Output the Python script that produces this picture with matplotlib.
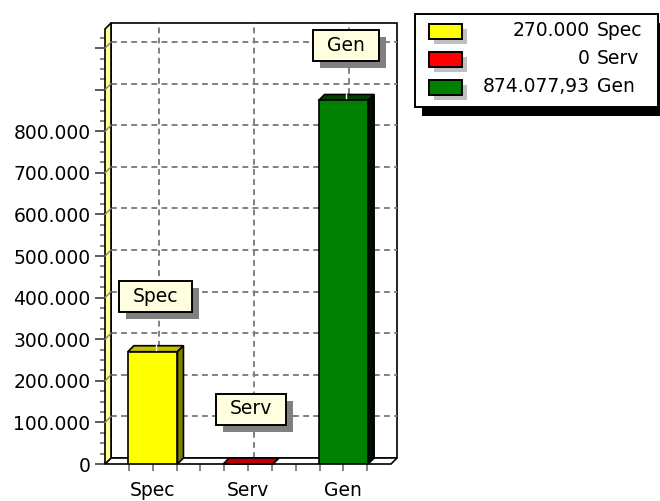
import matplotlib
matplotlib.use("Agg")
import matplotlib.pyplot as plt
from matplotlib.patches import Rectangle, Polygon
from matplotlib.transforms import IdentityTransform
from matplotlib.ticker import FixedLocator
import numpy as np

categories = ["Spec", "Serv", "Gen"]
values = [270000, 0, 874077.93]
front_colors = ["#ffff00", "#ff0000", "#008000"]
top_colors = ["#c0c000", "#c00000", "#004000"]
side_colors = ["#808000", "#800000", "#001000"]
y_ticks = [0, 100000, 200000, 300000, 400000, 500000, 600000, 700000, 800000, 900000, 1000000]
y_tick_labels = ["0", "100.000", "200.000", "300.000", "400.000", "500.000",
                 "600.000", "700.000", "800.000", "", ""]
x_minor_ticks = [-0.25, 0.25, 0.5, 0.75, 1.25, 1.5, 1.75, 2.25]

plt.rcParams['font.family'] = ['DejaVu Sans']
FS = 13.5
W, H = 660, 501
D = 6  # 3d depth in px


def fmt_num(v):
    whole = int(v)
    s = f"{whole:,}".replace(",", ".")
    if abs(v - whole) > 1e-9:
        s += "," + f"{v:.2f}".split(".")[1]
    return s


fig = plt.figure(figsize=(W / 100, H / 100), dpi=100)
ax = fig.add_axes([105 / W, 37 / H, 286 / W, 435 / H])
xmin, xmax = -0.5, 2.5
ymin, ymax = 0, 1046000
ax.set_xlim(xmin, xmax)
ax.set_ylim(ymin, ymax)
for s in ax.spines.values():
    s.set_visible(False)
ax.patch.set_visible(False)

ddx = (xmax - xmin) * D / ax.bbox.width
ddy = (ymax - ymin) * D / ax.bbox.height

# back wall, floor, left wall
ax.add_patch(Rectangle((xmin + ddx, ddy), xmax - xmin, ymax - ymin, facecolor="white",
                       edgecolor="black", lw=1.2, clip_on=False, zorder=1))
ax.add_patch(Polygon([(xmin, 0), (xmax, 0), (xmax + ddx, ddy), (xmin + ddx, ddy)],
                     closed=True, facecolor="white", edgecolor="black", lw=1.2,
                     clip_on=False, zorder=2))
ax.add_patch(Polygon([(xmin, 0), (xmin, ymax), (xmin + ddx, ymax + ddy), (xmin + ddx, ddy)],
                     closed=True, facecolor="#ffff99", edgecolor="black", lw=1.2,
                     clip_on=False, zorder=3))

# grid on back wall
grid_kw = dict(color="#808080", lw=1.4, linestyle=(0, (3.0, 2.2)), clip_on=False)
x_pos = np.arange(len(categories))
for yt in y_ticks[1:]:
    ax.plot([xmin + ddx, xmax + ddx], [yt + ddy, yt + ddy], zorder=1.5, **grid_kw)
    ax.plot([xmin, xmin + ddx], [yt, yt + ddy], color="#808080", lw=1, zorder=3.5,
            clip_on=False)
for xp in x_pos:
    ax.plot([xp + ddx, xp + ddx], [ddy, ymax + ddy], zorder=1.5, **grid_kw)

# bars
bw = 0.52
ax.bar(x_pos, values, width=bw, color=front_colors, edgecolor="black", lw=1.2, zorder=6)
for xp, v, tc, sc in zip(x_pos, values, top_colors, side_colors):
    x0, x1 = xp - bw / 2, xp + bw / 2
    ax.add_patch(Polygon([(x0, v), (x1, v), (x1 + ddx, v + ddy), (x0 + ddx, v + ddy)],
                         closed=True, facecolor=tc, edgecolor="black", lw=1.2, zorder=5,
                         clip_on=False))
    ax.add_patch(Polygon([(x1, 0), (x1, v), (x1 + ddx, v + ddy), (x1 + ddx, ddy)],
                         closed=True, facecolor=sc, edgecolor="black", lw=1.2, zorder=5,
                         clip_on=False))
    if v > 0:
        ax.plot([xp + ddx / 2, xp + ddx / 2], [v + ddy * 0.15, v + ddy * 1.1],
                color="white", lw=1, zorder=5.5, clip_on=False)

# axes ticks
ax.set_yticks(y_ticks)
ax.set_yticklabels(y_tick_labels, fontsize=FS)
ax.yaxis.set_minor_locator(FixedLocator(np.arange(25000, ymax, 25000)))
ax.tick_params(axis="y", which="major", length=7.2, width=1.2, color="#404040", pad=3.2)
ax.tick_params(axis="y", which="minor", length=3.6, width=1.2, color="#707070")
ax.set_xticks(x_pos)
ax.set_xticklabels(categories, fontsize=FS)
ax.xaxis.set_minor_locator(FixedLocator(x_minor_ticks))
ax.tick_params(axis="x", which="both", length=5, width=1.2, color="#707070", pad=7)

# callout labels
fig.canvas.draw()
renderer = fig.canvas.get_renderer()
for xp, v, name in zip(x_pos, values, categories):
    px, py = ax.transData.transform((xp + ddx / 2, v + ddy / 2))
    cy = py + 52
    t = fig.text(px, cy, name, transform=IdentityTransform(), ha="center", va="center",
                 fontsize=FS, color="black", zorder=12)
    bb = t.get_window_extent(renderer)
    bwid = bb.width + 28
    bh = 31
    fig.add_artist(Rectangle((px - bwid / 2 + 7, cy - bh / 2 - 7), bwid, bh,
                             transform=IdentityTransform(), facecolor="#808080",
                             edgecolor="none", zorder=10))
    fig.add_artist(Rectangle((px - bwid / 2, cy - bh / 2), bwid, bh,
                             transform=IdentityTransform(), facecolor="#ffffe0",
                             edgecolor="black", lw=1.4, zorder=11))

# legend
lx0, ly_top, lw_, lh = 415, H - 14, 243, 93
fig.add_artist(Rectangle((lx0 + 7, ly_top - lh - 9), lw_, lh, transform=IdentityTransform(),
                         facecolor="black", edgecolor="none", zorder=10))
fig.add_artist(Rectangle((lx0, ly_top - lh), lw_, lh, transform=IdentityTransform(),
                         facecolor="white", edgecolor="black", lw=1.4, zorder=11))
for i, (name, v, c) in enumerate(zip(categories, values, front_colors)):
    rcy = H - 31 - 28 * i
    fig.add_artist(Rectangle((429 + 5, rcy - 7.5 - 5), 33, 15, transform=IdentityTransform(),
                             facecolor="#c0c0c0", edgecolor="none", zorder=12))
    fig.add_artist(Rectangle((429, rcy - 7.5), 33, 15, transform=IdentityTransform(),
                             facecolor=c, edgecolor="black", lw=1.4, zorder=13))
    fig.text(590, rcy, fmt_num(v), transform=IdentityTransform(), ha="right",
             va="center", fontsize=FS, zorder=13)
    fig.text(597, rcy, name, transform=IdentityTransform(), ha="left",
             va="center", fontsize=FS, zorder=13)

fig.savefig("out.png", dpi=100)
